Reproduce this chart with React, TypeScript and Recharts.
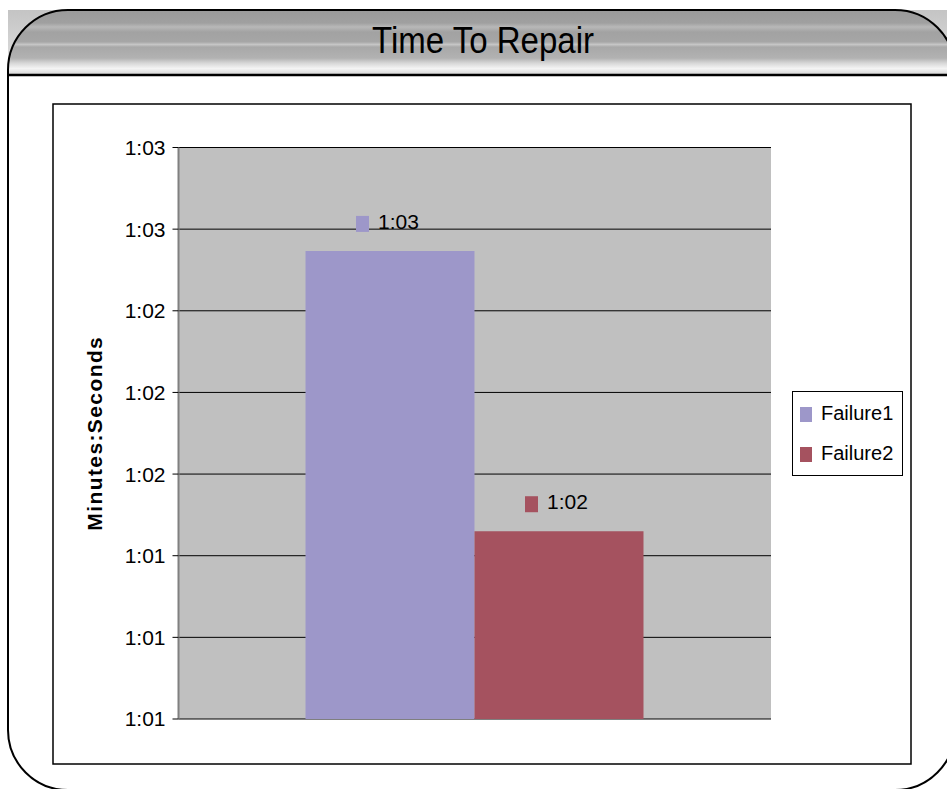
import React from "react";
import {
  BarChart,
  Bar,
  XAxis,
  YAxis,
  CartesianGrid,
  Legend,
  LabelList,
} from "recharts";

const categories = ["Time To Repair"];
const seriesNames = ["Failure1", "Failure2"];
const seriesColors = ["#9D97C9", "#A5525F"];
const failure1Values = [62.72];
const failure2Values = [61.69];
const failure1Labels = ["1:03"];
const failure2Labels = ["1:02"];
const yTickValues = [61.0, 61.3, 61.6, 61.9, 62.2, 62.5, 62.8, 63.1];
const yTickLabels = ["1:01", "1:01", "1:01", "1:02", "1:02", "1:02", "1:03", "1:03"];
const chartTitle = "Time To Repair";
const yAxisTitle = "Minutes:Seconds";

const data = categories.map((c, i) => ({
  name: c,
  Failure1: failure1Values[i],
  Failure2: failure2Values[i],
}));

const FONT = "'Liberation Sans', Arial, Helvetica, sans-serif";

const fmtTick = (v: number) => {
  const i = yTickValues.findIndex((t) => Math.abs(t - v) < 1e-6);
  return i >= 0 ? yTickLabels[i] : "";
};

const makeLabel = (labels: string[], color: string) => (props: any) => {
  const x = Number(props.x);
  const y = Number(props.y);
  const w = Number(props.width);
  const idx = props.index ?? 0;
  const cx = x + w / 2;
  return (
    <g>
      <rect x={cx - 34} y={y - 35} width={13} height={16} fill={color} />
      <text x={cx - 12} y={y - 22} fontSize={21} fontFamily={FONT} fill="#000">
        {labels[idx]}
      </text>
    </g>
  );
};

const LegendBox = () => (
  <svg width={111} height={85} style={{ display: "block" }}>
    <rect x={0.5} y={0.5} width={110} height={84} fill="#fff" stroke="#000" strokeWidth={1} />
    {seriesNames.map((n, i) => (
      <g key={n}>
        <rect x={8} y={16 + i * 40} width={12} height={15} fill={seriesColors[i]} />
        <text x={29} y={28.5 + i * 40} fontSize={20} fontFamily={FONT} fill="#000">
          {n}
        </text>
      </g>
    ))}
  </svg>
);

const YTitle = (props: any) => {
  const vb = props.viewBox || {};
  const cy = (vb.y ?? 0) + (vb.height ?? 0) / 2;
  const cx = 41;
  return (
    <text
      x={cx}
      y={cy}
      transform={`rotate(-90 ${cx} ${cy})`}
      textAnchor="middle"
      dominantBaseline="central"
      fontSize={21}
      fontWeight="bold"
      letterSpacing={1.4}
      fontFamily={FONT}
      fill="#000"
    >
      {yAxisTitle}
    </text>
  );
};

export default function App() {
  return (
    <div
      style={{
        position: "absolute",
        left: 0,
        top: 0,
        width: 947,
        height: 789,
        overflow: "hidden",
        background: "#fff",
      }}
    >
      <svg width={947} height={789} style={{ position: "absolute", left: 0, top: 0 }}>
        <defs>
          <linearGradient id="band" x1="0" y1="0" x2="0" y2="1">
            <stop offset="0" stopColor="#9a9a9a" />
            <stop offset="0.2" stopColor="#a0a0a0" />
            <stop offset="0.26" stopColor="#b8b8b8" />
            <stop offset="0.34" stopColor="#a2a2a2" />
            <stop offset="0.49" stopColor="#a6a6a6" />
            <stop offset="0.53" stopColor="#c6c6c6" />
            <stop offset="0.57" stopColor="#a8a8a8" />
            <stop offset="0.74" stopColor="#b2b2b2" />
            <stop offset="0.82" stopColor="#d8d8d8" />
            <stop offset="0.9" stopColor="#f4f4f4" />
            <stop offset="1" stopColor="#d4d4d4" />
          </linearGradient>
          <linearGradient id="bandLight" x1="0" y1="0" x2="0" y2="1">
            <stop offset="0" stopColor="#c4c4c4" />
            <stop offset="0.6" stopColor="#d6d6d6" />
            <stop offset="1" stopColor="#f2f2f2" />
          </linearGradient>
        </defs>
        <rect x={8} y={10} width={939} height={65} fill="url(#bandLight)" />
        <path
          d="M 8 75 L 8 70 A 60 60 0 0 1 68 10 L 895 10 A 60 60 0 0 1 955 70 L 955 75 Z"
          fill="url(#band)"
        />
        <path
          d="M 8 70 A 60 60 0 0 1 68 10 L 895 10 A 60 60 0 0 1 955 70 L 955 730 A 60 60 0 0 1 895 790 L 68 790 A 60 60 0 0 1 8 730 Z"
          fill="none"
          stroke="#000"
          strokeWidth={2}
        />
        <line x1={8} y1={75} x2={955} y2={75} stroke="#000" strokeWidth={2.5} />
        <text
          x={483}
          y={53}
          textAnchor="middle"
          fontSize={36}
          fontFamily={FONT}
          textLength={222}
          lengthAdjust="spacingAndGlyphs"
          fill="#000"
        >
          {chartTitle}
        </text>
        <rect x={53} y={104} width={858} height={660} fill="#fff" stroke="#000" strokeWidth={1.5} />
      </svg>
      <div style={{ position: "absolute", left: 53, top: 104 }}>
        <BarChart
          width={858}
          height={660}
          data={data}
          margin={{ top: 43.5, right: 140, bottom: 45, left: 0 }}
          barGap={0}
        >
          <CartesianGrid
            vertical={false}
            stroke="#000"
            strokeWidth={1}
            fill="#C0C0C0"
            fillOpacity={1}
          />
          <XAxis
            dataKey="name"
            tick={false}
            tickLine={false}
            height={0}
            axisLine={{ stroke: "#808080", strokeWidth: 2 }}
          />
          <XAxis
            xAxisId="top"
            dataKey="name"
            orientation="top"
            tick={false}
            tickLine={false}
            height={0}
            axisLine={{ stroke: "#808080", strokeWidth: 2 }}
          />
          <YAxis
            type="number"
            domain={[yTickValues[0], yTickValues[yTickValues.length - 1]]}
            ticks={yTickValues}
            interval={0}
            tickFormatter={fmtTick}
            width={125.5}
            tickSize={6}
            tickMargin={7}
            tickLine={{ stroke: "#000" }}
            axisLine={{ stroke: "#808080", strokeWidth: 2 }}
            tick={{ fontSize: 21, fontFamily: FONT, fill: "#000" }}
            label={<YTitle />}
          />
          <YAxis
            yAxisId="right"
            orientation="right"
            type="number"
            domain={[yTickValues[0], yTickValues[yTickValues.length - 1]]}
            tick={false}
            tickLine={false}
            width={0}
            axisLine={{ stroke: "#808080", strokeWidth: 2 }}
          />
          <Legend
            layout="vertical"
            align="center"
            verticalAlign="middle"
            content={<LegendBox />}
            wrapperStyle={{ left: 739, top: 287, width: 111, height: 85 }}
          />
          <Bar dataKey="Failure1" name={seriesNames[0]} fill={seriesColors[0]} barSize={169} isAnimationActive={false}>
            <LabelList dataKey="Failure1" content={makeLabel(failure1Labels, seriesColors[0])} />
          </Bar>
          <Bar dataKey="Failure2" name={seriesNames[1]} fill={seriesColors[1]} barSize={169} isAnimationActive={false}>
            <LabelList dataKey="Failure2" content={makeLabel(failure2Labels, seriesColors[1])} />
          </Bar>
        </BarChart>
      </div>
    </div>
  );
}
